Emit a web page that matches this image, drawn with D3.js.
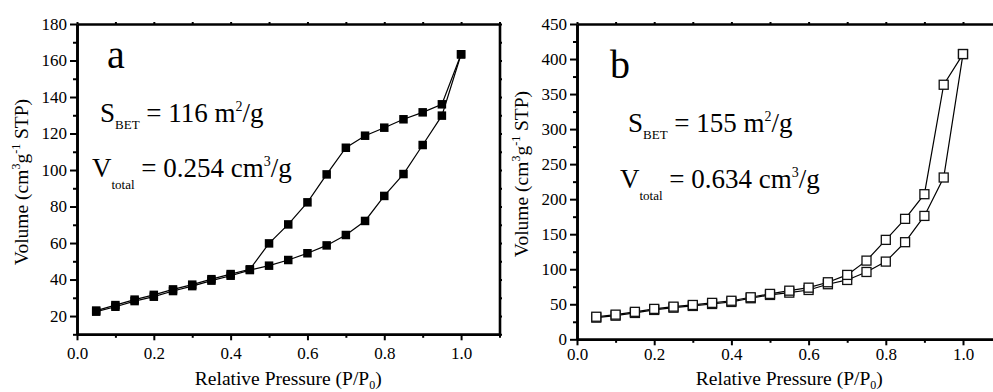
<!DOCTYPE html>
<html>
<head>
<meta charset="utf-8">
<script src="https://cdn.jsdelivr.net/npm/d3@7"></script>
<style>
body{margin:0;background:#fff}
</style>
</head>
<body>
<div id="my_dataviz"></div>
<script>
// relative pressure steps (P/P0), adsorption up then desorption back down
var pAds=[0.05,0.10,0.15,0.20,0.25,0.30,0.35,0.40,0.45,0.50,0.55,0.60,0.65,0.70,0.75,0.80,0.85,0.90,0.95,1.00]
var pDes=[1.00,0.95,0.90,0.85,0.80,0.75,0.70,0.65,0.60,0.55,0.50,0.45,0.40,0.35,0.30,0.25,0.20,0.15,0.10,0.05]

// sample a, volume cm3/g STP
var adsA=[22.4,25.1,28.2,30.6,33.7,36.4,39.4,42.1,45.2,47.6,50.7,54.4,58.7,64.4,72.1,85.8,97.8,113.7,129.8,163.4]
var desA=[163.4,136,131.6,127.8,123.2,118.8,112.2,97.6,82.3,70.2,59.8,45.6,43,40.2,37.2,34.6,31.6,29,26,23]

// sample b
var adsB=[30.9,33.7,37.6,41.9,45.1,47.6,50.4,53.3,58.6,63.3,66.6,70.4,78.6,84.7,96.1,110.9,138.6,176.1,230.9,407.1]
var desB=[407.1,363.3,207.1,171.9,141.9,112.3,91.9,81.4,73.7,69.4,64.8,60,55,52,49,46.6,43.4,39.2,35.2,32.2]

// tick values
var xMajor=[0,0.2,0.4,0.6,0.8,1.0]
var xMinor=[0.1,0.3,0.5,0.7,0.9,1.1]
var yMajorA=[20,40,60,80,100,120,140,160,180]
var yMinorA=[10,30,50,70,90,110,130,150,170]
var yMajorB=[0,50,100,150,200,250,300,350,400,450]
var yMinorB=[25,75,125,175,225,275,325,375,425]

// panel texts
var labelA="a", sbetA="116", vtotA="0.254"
var labelB="b", sbetB="155", vtotB="0.634"

var FONT="Liberation Serif"

var svg=d3.select("#my_dataviz").append("svg")
	.attr("width",993)
	.attr("height",392)

function drawPanel(o){
	var x=d3.scaleLinear().domain([0,1.1]).range([o.left,o.right])
	var y=d3.scaleLinear().domain(o.yDomain).range([o.bottom,o.top])
	var g=svg.append("g")

	// bottom axis
	g.append("g")
		.attr("transform","translate(0,"+o.bottom+")")
		.call(d3.axisBottom(x).tickValues(xMinor).tickSize(3.5).tickSizeOuter(0).tickFormat(""))
	g.append("g")
		.attr("transform","translate(0,"+o.bottom+")")
		.call(d3.axisBottom(x).tickValues(xMajor).tickSize(6).tickSizeOuter(0).tickPadding(o.xPad).tickFormat(d3.format(".1f")))

	// left axis
	g.append("g")
		.attr("transform","translate("+o.left+",0)")
		.call(d3.axisLeft(y).tickValues(o.yMinor).tickSize(4).tickSizeOuter(0).tickFormat(""))
	g.append("g")
		.attr("transform","translate("+o.left+",0)")
		.call(d3.axisLeft(y).tickValues(o.yMajor).tickSize(7).tickSizeOuter(0).tickPadding(3).tickFormat(d3.format("d")))

	// mirror axes top and right, small ticks no labels
	g.append("g")
		.attr("transform","translate(0,"+o.top+")")
		.call(d3.axisTop(x).tickValues(xMajor.concat(xMinor)).tickSize(2).tickSizeOuter(0).tickFormat(""))
	g.append("g")
		.attr("transform","translate("+o.right+",0)")
		.call(d3.axisRight(y).tickValues(o.yMajor.concat(o.yMinor)).tickSize(2.5).tickSizeOuter(0).tickFormat(""))

	g.selectAll(".domain").attr("stroke","#000").attr("stroke-width",2.6)
	g.selectAll(".tick line").attr("stroke","#000").attr("stroke-width",2)
	g.selectAll(".tick text")
		.attr("font-family",FONT)
		.attr("font-size",17)
		.attr("fill","#000")

	// isotherm lines
	var line=d3.line()
		.x(function(d){return x(d[0])})
		.y(function(d){return y(d[1])})
	var ads=d3.zip(pAds,o.ads)
	var des=d3.zip(pDes,o.des)
	;[ads,des].forEach(function(s){
		g.append("path")
			.datum(s)
			.attr("d",line)
			.attr("fill","none")
			.attr("stroke","#000")
			.attr("stroke-width",1.2)
	})

	// square markers
	var sz=o.filled?8.5:9
	g.selectAll(".dot")
		.data(ads.concat(des))
		.enter().append("rect")
		.attr("class","dot")
		.attr("x",function(d){return x(d[0])-sz/2})
		.attr("y",function(d){return y(d[1])-sz/2})
		.attr("width",sz)
		.attr("height",sz)
		.attr("fill",o.filled?"#000":"#fff")
		.attr("stroke",o.filled?"none":"#111")
		.attr("stroke-width",1.3)

	// panel letter
	g.append("text")
		.attr("x",o.left+o.letterX)
		.attr("y",o.top+o.letterY)
		.attr("font-family",FONT)
		.attr("font-size",40)
		.text(o.label)

	// S_BET line
	var t=g.append("text")
		.attr("x",o.left+o.sX)
		.attr("y",o.top+o.sY)
		.attr("font-family",FONT)
		.attr("font-size",27)
	t.append("tspan").text("S")
	t.append("tspan").attr("dy",7).attr("font-size",13).text("BET")
	t.append("tspan").attr("dy",-7).text(" = "+o.sbet+" m")
	t.append("tspan").attr("dy",-11).attr("font-size",14).text("2")
	t.append("tspan").attr("dy",11).text("/g")

	// V_total line
	var v=g.append("text")
		.attr("x",o.left+o.vX)
		.attr("y",o.top+o.vY)
		.attr("font-family",FONT)
		.attr("font-size",27)
	v.append("tspan").text("V")
	v.append("tspan").attr("dy",12).attr("font-size",13).text("total")
	v.append("tspan").attr("dy",-12).text(" = "+o.vtot+" cm")
	v.append("tspan").attr("dy",-11).attr("font-size",14).text("3")
	v.append("tspan").attr("dy",11).text("/g")

	// axis titles
	var xt=g.append("text")
		.attr("x",(o.left+o.right)/2)
		.attr("y",385)
		.attr("text-anchor","middle")
		.attr("font-family",FONT)
		.attr("font-size",19.5)
	xt.append("tspan").text("Relative Pressure (P/P")
	xt.append("tspan").attr("dy",4).attr("font-size",12).text("0")
	xt.append("tspan").attr("dy",-4).text(")")

	var yt=g.append("text")
		.attr("transform","translate("+o.yTitleX+","+o.yTitleY+") rotate(-90)")
		.attr("text-anchor","middle")
		.attr("font-family",FONT)
		.attr("font-size",19.5)
	yt.append("tspan").text("Volume (cm")
	yt.append("tspan").attr("dy",-8).attr("font-size",12).text("3")
	yt.append("tspan").attr("dy",8).text("g")
	yt.append("tspan").attr("dy",-8).attr("font-size",12).text("-1")
	yt.append("tspan").attr("dy",8).text(" STP)")
}

drawPanel({
	left:77,right:499.5,top:24,bottom:334.3,
	yDomain:[10,180],yMajor:yMajorA,yMinor:yMinorA,
	ads:adsA,des:desA,filled:true,xPad:7,
	label:labelA,sbet:sbetA,vtot:vtotA,
	letterX:30,letterY:44,sX:23,sY:98,vX:15,vY:153,
	yTitleX:28,yTitleY:182
})

drawPanel({
	left:577,right:1001.6,top:24,bottom:339.3,
	yDomain:[0,450],yMajor:yMajorB,yMinor:yMinorB,
	ads:adsB,des:desB,filled:false,xPad:3,
	label:labelB,sbet:sbetB,vtot:vtotB,
	letterX:33,letterY:54,sX:51,sY:108,vX:43,vY:164,
	yTitleX:528,yTitleY:174
})
</script>
</body>
</html>
